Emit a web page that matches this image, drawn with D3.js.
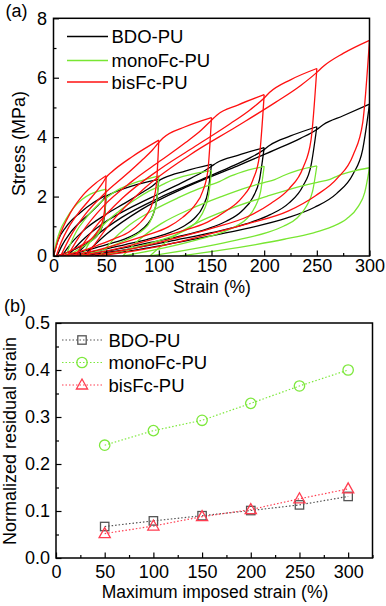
<!DOCTYPE html>
<html><head><meta charset="utf-8">
<script src="https://cdn.jsdelivr.net/npm/d3@7/dist/d3.min.js"></script>
<style>
body{margin:0;background:#fff}
svg text{font-family:"Liberation Sans",Arial,Helvetica,sans-serif;fill:#000}
</style>
</head><body>
<svg id="c" width="386" height="606"></svg>
<script>
// ---------- (a) cyclic stress–strain loops: [strain %, stress MPa] ----------
const bdoLoad = [
 [[0,0],[4,0.5],[12,0.98],[25,1.45],[38,1.8],[50,2.05]],
 [[3.35,0],[8.0,0.35],[15.0,0.74],[24.3,1.11],[33.7,1.41],[41.6,1.68],[46.7,1.87],[50,2.01],[55,2.1],[75,2.36],[100,2.58]],
 [[7.9,0],[17.1,0.44],[30.9,0.93],[49.3,1.39],[67.8,1.78],[83.4,2.12],[93.6,2.35],[100,2.53],[105,2.63],[125,2.86],[150,3.08]],
 [[13.5,0],[27.2,0.52],[47.6,1.11],[74.9,1.66],[102.2,2.13],[125.4,2.53],[140.4,2.80],[150,3.02],[155,3.14],[175,3.39],[200,3.65]],
 [[20.2,0],[38.2,0.62],[65.2,1.31],[101.1,1.97],[137.1,2.52],[167.6,2.99],[187.4,3.32],[200,3.58],[205,3.72],[225,4.04],[250,4.35]],
 [[28.25,0],[50.4,0.74],[83.7,1.57],[128.0,2.35],[172.4,3.00],[210.1,3.57],[234.5,3.96],[250,4.26],[256,4.42],[275,4.72],[300,5.11]]
];
const bdoUnload = [
 [[3.35,0],[12.7,0.113],[22.0,0.256],[29.0,0.369],[36.0,0.513],[40.7,0.656],[44.4,0.841],[47.2,1.11],[48.8,1.44],[50,2.05]],
 [[7.9,0],[26.3,0.142],[44.7,0.323],[58.6,0.464],[72.4,0.645],[81.6,0.826],[88.9,1.06],[94.5,1.39],[97.7,1.81],[100,2.58]],
 [[13.5,0],[40.8,0.169],[68.1,0.385],[88.6,0.554],[109.1,0.77],[122.7,0.986],[133.6,1.26],[141.8,1.66],[146.6,2.16],[150,3.08]],
 [[20.2,0],[56.2,0.201],[92.1,0.456],[119.1,0.657],[146.1,0.913],[164.0,1.17],[178.4,1.50],[189.2,1.97],[195.5,2.56],[200,3.65]],
 [[28.25,0],[72.6,0.239],[117.0,0.544],[150.2,0.783],[183.5,1.09],[205.7,1.39],[223.4,1.78],[236.7,2.35],[244.5,3.05],[250,4.35]],
 [[39.3,0],[91.4,0.281],[143.6,0.639],[182.7,0.920],[221.8,1.28],[247.9,1.64],[268.7,2.10],[284.4,2.76],[293.5,3.58],[300,5.11]]
];
const monoLoad = [
 [[0,0],[3,0.5],[6.4,0.87],[12,1.25],[19,1.62],[27,1.9],[35,2.08],[50,2.25]],
 [[12,0],[16.05,0.40],[22.1,0.85],[30.2,1.25],[38.3,1.58],[45.2,1.82],[49.7,1.94],[52.5,2.02],[60,2.2],[80,2.5],[100,2.70]],
 [[27.1,0],[34.9,0.49],[46.6,1.02],[62.2,1.51],[77.7,1.90],[91.0,2.19],[99.5,2.33],[105,2.43],[112,2.55],[130,2.74],[150,2.87]],
 [[44,0],[55.4,0.50],[72.4,1.05],[95.1,1.55],[117.8,1.95],[137.1,2.25],[149.6,2.40],[157.5,2.50],[165,2.64],[180,2.84],[200,3.02]],
 [[65.8,0],[80.2,0.51],[101.9,1.08],[130.7,1.59],[159.5,2.00],[184.0,2.31],[199.9,2.47],[210,2.57],[218,2.70],[232,2.88],[250,3.03]],
 [[91.5,0],[108.6,0.52],[134.3,1.08],[168.5,1.60],[202.7,2.01],[231.7,2.32],[250.5,2.48],[262.5,2.58],[270,2.70],[285,2.86],[300,2.97]]
];
const monoUnload = [
 [[12,0],[19.6,0.135],[27.2,0.293],[32.9,0.428],[38.6,0.585],[42.4,0.743],[45.4,0.945],[47.7,1.26],[49.1,1.62],[50,2.25]],
 [[27.1,0],[41.7,0.162],[56.3,0.351],[67.2,0.513],[78.1,0.702],[85.4,0.891],[91.3,1.13],[95.6,1.51],[98.2,1.94],[100,2.70]],
 [[44,0],[65.2,0.172],[86.4,0.373],[102.3,0.545],[118.2,0.746],[128.8,0.947],[137.3,1.21],[143.6,1.61],[147.4,2.07],[150,2.87]],
 [[65.8,0],[92.6,0.181],[119.5,0.393],[139.6,0.574],[159.7,0.785],[173.2,1.00],[183.9,1.27],[191.9,1.69],[196.6,2.17],[200,3.02]],
 [[91.5,0],[123.2,0.182],[154.9,0.394],[178.7,0.576],[202.5,0.788],[218.3,1.00],[231.0,1.27],[240.5,1.70],[246.0,2.18],[250,3.03]],
 [[120,0],[156,0.178],[192,0.386],[219,0.564],[246,0.772],[264,0.98],[278.4,1.25],[289.2,1.66],[295.5,2.14],[300,2.97]]
];
const bisLoad = [
 [[0,0],[5,0.6],[16,1.45],[28,2.05],[40,2.45],[50,2.70]],
 [[2.6,0],[7.3,0.46],[14.45,0.97],[23.9,1.46],[33.4,1.86],[41.5,2.21],[46.7,2.46],[50,2.65],[55,2.82],[75,3.35],[100,3.90]],
 [[6.8,0],[16.1,0.66],[30.1,1.40],[48.7,2.11],[67.4,2.69],[83.2,3.20],[93.5,3.55],[100,3.82],[104,3.97],[125,4.35],[150,4.66]],
 [[13.2,0],[26.9,0.79],[47.4,1.68],[74.8,2.52],[102.1,3.22],[125.4,3.82],[140.4,4.24],[150,4.57],[155,4.74],[175,5.08],[200,5.43]],
 [[20.6,0],[38.5,0.92],[65.5,1.95],[101.3,2.93],[137.2,3.75],[167.7,4.45],[187.4,4.94],[200,5.32],[205,5.5],[225,5.93],[250,6.31]],
 [[31.5,0],[53.4,1.07],[86.1,2.27],[129.8,3.41],[173.5,4.35],[210.7,5.17],[234.7,5.74],[250,6.18],[256,6.38],[275,6.82],[300,7.26]]
];
const bisUnload = [
 [[2.6,0],[12.1,0.11],[21.6,0.27],[28.7,0.41],[35.8,0.57],[40.5,0.76],[44.3,0.97],[47.2,1.27],[48.8,1.67],[50,2.70]],
 [[6.8,0],[25.4,0.156],[44.1,0.39],[58.1,0.585],[72.0,0.819],[81.4,1.09],[88.8,1.40],[94.4,1.83],[97.7,2.42],[100,3.90]],
 [[13.2,0],[40.6,0.186],[67.9,0.466],[88.4,0.699],[109.0,0.979],[122.6,1.30],[133.6,1.68],[141.8,2.19],[146.6,2.89],[150,4.66]],
 [[20.6,0],[56.5,0.217],[92.4,0.543],[119.3,0.815],[146.2,1.14],[164.1,1.52],[178.5,1.95],[189.2,2.55],[195.5,3.37],[200,5.43]],
 [[31.5,0],[75.2,0.252],[118.9,0.631],[151.7,0.947],[184.5,1.33],[206.3,1.77],[223.8,2.27],[236.9,2.97],[244.5,3.91],[250,6.31]],
 [[44.1,0],[95.3,0.29],[146.5,0.726],[184.8,1.09],[223.2,1.52],[248.8,2.03],[269.3,2.61],[284.6,3.41],[293.6,4.50],[300,7.26]]
];

// ---------- (b) normalized residual strain ----------
const maxStrain = [50,100,150,200,250,300];
const bdoResidual = [0.067,0.079,0.090,0.101,0.113,0.131];
const monoResidual = [0.240,0.271,0.293,0.329,0.366,0.400];
const bisResidual = [0.052,0.068,0.088,0.103,0.126,0.147];

// ticks
const aXMajor = [0,50,100,150,200,250,300], aXMinor = [25,75,125,175,225,275];
const aYMajor = [0,2,4,6,8], aYMinor = [1,3,5,7];
const bXMajor = [0,50,100,150,200,250,300], bXMinor = [25,75,125,175,225,275,325];
const bYMajor = [0,0.1,0.2,0.3,0.4,0.5], bYMinor = [0.05,0.15,0.25,0.35,0.45];

const names = ["BDO-PU","monoFc-PU","bisFc-PU"];
const lineColors = ["#000000","#78e632","#ff1010"];
const bColors = ["#555555","#7de83c","#ff3d50"];

const svg = d3.select("#c");
const FS = 18;

function axes(x, y, xMaj, xMin, yMaj, yMin, xFmt, yFmt, xPad, yPad){
  const [xl,xr] = x.range(), [yb,yt] = y.range();
  const mk = (gen) => svg.append("g").call(gen).call(g=>g.select(".domain").remove())
      .attr("font-size",FS).attr("font-family","Liberation Sans, Arial, sans-serif")
      .call(g=>g.selectAll("line").attr("stroke","#000").attr("stroke-width",1.2));
  mk(d3.axisBottom(x).tickValues(xMin).tickSize(-3).tickFormat("")).attr("transform",`translate(0,${yb})`);
  mk(d3.axisBottom(x).tickValues(xMaj).tickSize(-5.5).tickPadding(xPad).tickFormat(xFmt)).attr("transform",`translate(0,${yb})`);
  mk(d3.axisLeft(y).tickValues(yMin).tickSize(-3).tickFormat("")).attr("transform",`translate(${xl},0)`);
  mk(d3.axisLeft(y).tickValues(yMaj).tickSize(-5.5).tickPadding(yPad).tickFormat(yFmt)).attr("transform",`translate(${xl},0)`);
  svg.append("rect").attr("x",xl).attr("y",yt).attr("width",xr-xl).attr("height",yb-yt)
     .attr("fill","none").attr("stroke","#000").attr("stroke-width",1.5);
}

// ===== panel (a) =====
const xa = d3.scaleLinear().domain([0,300]).range([53.5,369.5]);
const ya = d3.scaleLinear().domain([0,8]).range([256,18.3]);
svg.append("clipPath").attr("id","clipA").append("rect")
   .attr("x",53.5).attr("y",18.3).attr("width",316).attr("height",237.7);
const lineA = d3.line().x(d=>xa(d[0])).y(d=>ya(d[1])).curve(d3.curveMonotoneX);
const gA = svg.append("g").attr("clip-path","url(#clipA)");
[[bdoLoad,bdoUnload],[monoLoad,monoUnload],[bisLoad,bisUnload]].forEach(([ld,ul],i)=>{
  ld.concat(ul).forEach(c=>{
    gA.append("path").attr("d",lineA(c)).attr("fill","none")
      .attr("stroke",lineColors[i]).attr("stroke-width",1.3).attr("stroke-linejoin","round");
  });
});
axes(xa, ya, aXMajor, aXMinor, aYMajor, aYMinor, d3.format("d"), d3.format("d"), 3.5, 6.5);

// legend (a)
const legA = [36.5,60.5,82];
names.forEach((n,i)=>{
  svg.append("line").attr("x1",67).attr("x2",108).attr("y1",legA[i]).attr("y2",legA[i])
     .attr("stroke",lineColors[i]).attr("stroke-width",1.3);
  svg.append("text").attr("x",111.5).attr("y",legA[i]+6.6).attr("font-size",18.5).text(n);
});
svg.append("text").attr("x",5.5).attr("y",17).attr("font-size",FS).text("(a)");
svg.append("text").attr("x",212).attr("y",293).attr("font-size",17.5).attr("text-anchor","middle").text("Strain (%)");
svg.append("text").attr("transform","translate(25,143.5) rotate(-90)").attr("font-size",FS)
   .attr("text-anchor","middle").text("Stress (MPa)");

// ===== panel (b) =====
const xb = d3.scaleLinear().domain([0,325]).range([56,372.5]);
const yb = d3.scaleLinear().domain([0,0.5]).range([558,323]);
axes(xb, yb, bXMajor, bXMinor, bYMajor, bYMinor, d3.format("d"), d3.format(".1f"), 7, 6);
svg.append("text").attr("x",4).attr("y",312).attr("font-size",FS).text("(b)");
svg.append("text").attr("x",215).attr("y",597.5).attr("font-size",17.5).attr("text-anchor","middle").text("Maximum imposed strain (%)");
svg.append("text").attr("transform","translate(15.5,441) rotate(-90)").attr("font-size",FS)
   .attr("text-anchor","middle").text("Normalized residual strain");

const lineB = d3.line().x(d=>xb(d[0])).y(d=>yb(d[1]));
const series = [bdoResidual, monoResidual, bisResidual];
function marker(g, type, cx, cy, color){
  if(type===0) g.append("rect").attr("x",cx-4.2).attr("y",cy-4.2).attr("width",8.4).attr("height",8.4)
                 .attr("fill","none").attr("stroke",color).attr("stroke-width",1.3);
  else if(type===1) g.append("circle").attr("cx",cx).attr("cy",cy).attr("r",5.2)
                 .attr("fill","none").attr("stroke",color).attr("stroke-width",1.3);
  else g.append("path").attr("d",`M${cx},${cy-6}L${cx+5.6},${cy+4}L${cx-5.6},${cy+4}Z`)
                 .attr("fill","none").attr("stroke",color).attr("stroke-width",1.3);
}
series.forEach((s,i)=>{
  const pts = maxStrain.map((m,j)=>[m,s[j]]);
  svg.append("path").attr("d",lineB(pts)).attr("fill","none").attr("stroke",bColors[i])
     .attr("stroke-width",1.2).attr("stroke-dasharray","1.5,2");
});
series.forEach((s,i)=>{
  maxStrain.forEach((m,j)=>marker(svg,i,xb(m),yb(s[j]),bColors[i]));
});
// legend (b)
const legB = [340,362.5,385];
names.forEach((n,i)=>{
  svg.append("line").attr("x1",62).attr("x2",102).attr("y1",legB[i]).attr("y2",legB[i])
     .attr("stroke",bColors[i]).attr("stroke-width",1.2).attr("stroke-dasharray","1.5,2");
  marker(svg,i,82,legB[i],bColors[i]);
  svg.append("text").attr("x",108.5).attr("y",legB[i]+6.6).attr("font-size",18.5).text(n);
});
</script>
</body></html>
